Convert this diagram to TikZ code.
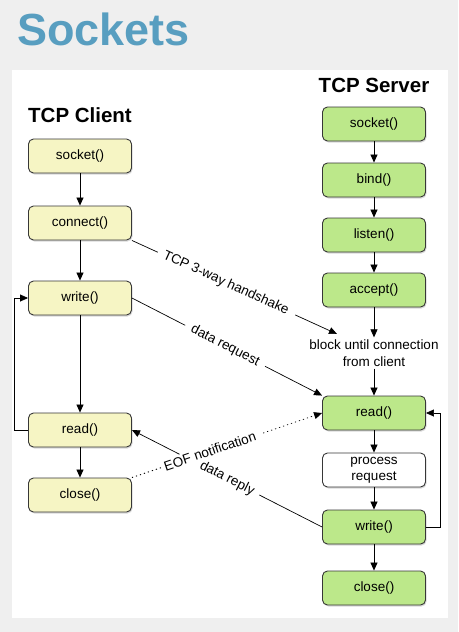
\documentclass[tikz,border=0pt]{standalone}
\usepackage{fontspec}
\setmainfont{Liberation Sans}
\usetikzlibrary{arrows.meta,shadows,calc}
\definecolor{bgray}{RGB}{239,239,239}
\definecolor{titleblue}{RGB}{88,158,192}
\definecolor{cyellow}{RGB}{246,245,196}
\definecolor{sgreen}{RGB}{188,232,138}
\definecolor{boxline}{RGB}{55,55,55}
\tikzset{
  box/.style={draw=boxline, line width=0.9pt, rounded corners=5pt,
    minimum width=103pt, minimum height=34pt, inner sep=0pt, align=center,
    font=\fontsize{13.5}{16}\selectfont,
    drop shadow={shadow xshift=1pt, shadow yshift=-1.5pt, opacity=0.3}},
  cbox/.style={box, fill=cyellow},
  sbox/.style={box, fill=sgreen},
  wbox/.style={box, fill=white},
  arr/.style={-{Triangle[length=8pt,width=7pt]}, line width=0.7pt},
  ln/.style={line width=0.7pt},
  dot/.style={line width=0.9pt, dash pattern=on 1.2pt off 3pt},
  lbl/.style={font=\fontsize{13.5}{17}\selectfont, sloped, inner sep=0pt},
  head/.style={font=\fontsize{20.5}{24}\selectfont\bfseries},
}
\begin{document}
\begin{tikzpicture}[x=1pt,y=-1pt]
\useasboundingbox (0,0) rectangle (458,632);
\fill[bgray] (0,0) rectangle (458,632);
\fill[white] (12,70) rectangle (448,618);
\node[anchor=base west, text=titleblue, font=\fontsize{45}{50}\selectfont\bfseries, inner sep=0pt] (title) at (17,45) {Sockets};
% headings
\node[head] (hc) at (80,115) {TCP Client};
\node[head] (hs) at (374,85) {TCP Server};
% client
\node[cbox] (cs) at (80,156) {socket()};
\node[cbox] (cc) at (80,223) {connect()};
\node[cbox] (cw) at (80,298) {write()};
\node[cbox] (cr) at (80,430) {read()};
\node[cbox] (ccl) at (80,495) {close()};
% server
\node[sbox] (ss) at (374,124) {socket()};
\node[sbox] (sb) at (374,180) {bind()};
\node[sbox] (sl) at (374,235) {listen()};
\node[sbox] (sa) at (374,290) {accept()};
\node[align=center, font=\fontsize{13.5}{17}\selectfont, inner sep=2pt] (blk) at (374,353) {block until connection\\from client};
\node[sbox] (sr) at (374,413) {read()};
\node[wbox] (sp) at (374,470) {process\\request};
\node[sbox] (sw) at (374,527) {write()};
\node[sbox] (scl) at (374,588) {close()};
\coordinate (hsk) at (337,334);
% client arrows
\draw[arr] (cs) -- (cc);
\draw[arr] (cc) -- (cw);
\draw[arr] (cw) -- (cr);
\draw[arr] (cr) -- (ccl);
\draw[arr] (cr.west) -- ++(-14,0) |- (cw.west);
% server arrows
\draw[arr] (ss) -- (sb);
\draw[arr] (sb) -- (sl);
\draw[arr] (sl) -- (sa);
\draw[arr] (sa) -- (blk);
\draw[arr] (blk) -- (sr);
\draw[arr] (sr) -- (sp);
\draw[arr] (sp) -- (sw);
\draw[arr] (sw) -- (scl);
\draw[arr] (sw.east) -- ++(14,0) |- (sr.east);
% handshake
\draw[ln] (cc.south east) -- ($(cc.south east)!0.126!(hsk)$);
\draw[arr] ($(cc.south east)!0.796!(hsk)$) -- (hsk);
\path (cc.south east) -- node[lbl, pos=0.458] (lhs) {TCP 3-way handshake} (hsk);
% data request
\draw[ln] (cw.east) -- ($(cw.east)!0.28!(sr.north west)$);
\draw[arr] ($(cw.east)!0.70!(sr.north west)$) -- (sr.north west);
\path (cw.east) -- node[lbl, pos=0.49] (ldr) {data request} (sr.north west);
% EOF notification
\draw[dot] (ccl.north east) -- ($(ccl.north east)!0.156!(sr.west)$);
\draw[dot, arr, dash pattern=on 1.2pt off 3pt] ($(ccl.north east)!0.69!(sr.west)$) -- (sr.west);
\path (ccl.north east) -- node[lbl, pos=0.41] (leof) {EOF notification} (sr.west);
% data reply
\draw[ln] (sw.west) -- ($(sw.west)!0.33!(cr.east)$);
\draw[arr] ($(sw.west)!0.75!(cr.east)$) -- (cr.east);
\path (sw.west) -- node[lbl, pos=0.5] (lrep) {data reply} (cr.east);
\end{tikzpicture}
\end{document}
